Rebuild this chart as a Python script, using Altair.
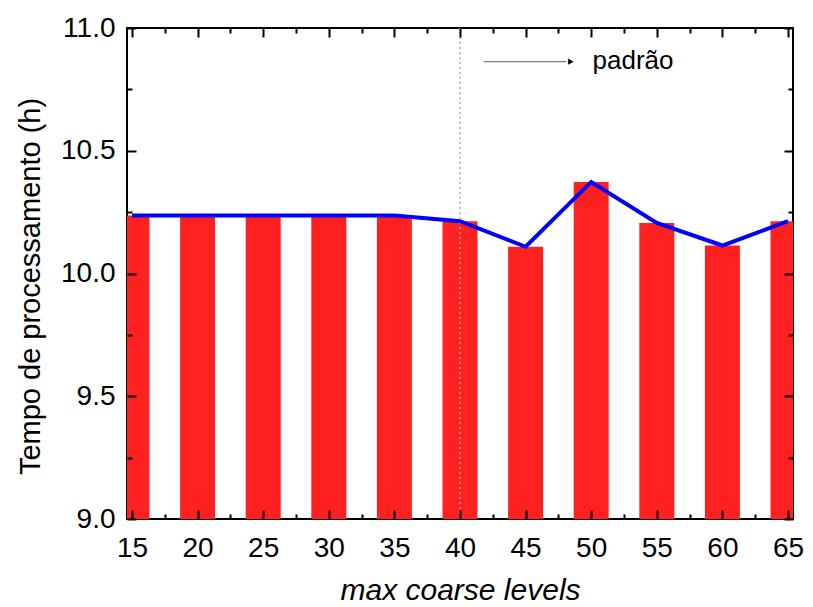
import altair as alt
import pandas as pd

# ---- data ----
levels = [15, 20, 25, 30, 35, 40, 45, 50, 55, 60, 65]
times = [10.236, 10.236, 10.236, 10.236, 10.236, 10.213, 10.109, 10.373, 10.206, 10.114, 10.213]
x_major = [15, 20, 25, 30, 35, 40, 45, 50, 55, 60, 65]
x_minor = [17.5, 22.5, 27.5, 32.5, 37.5, 42.5, 47.5, 52.5, 57.5, 62.5]
y_major = [9.0, 9.5, 10.0, 10.5, 11.0]
y_minor = [9.25, 9.75, 10.25, 10.75]
default_level = [40]
arrow_x = [41.8, 48.1]
arrow_y = [10.863, 10.863]
head_x = [48.45]
label_x = [50.1]
label_y = [10.835]
label_text = ["padrão"]

W, H = 666, 491
FONT = "Liberation Sans"

df = pd.DataFrame({"level": levels, "time": times})
df_rule = pd.DataFrame({"x": default_level, "lo": [y_major[0]], "hi": [y_major[-1]]})
df_arrow = pd.DataFrame({"x": arrow_x, "y": arrow_y})
df_head = pd.DataFrame({"x": head_x, "y": arrow_y[:1]})
df_label = pd.DataFrame({"x": label_x, "y": label_y, "t": label_text})

xs = alt.Scale(domain=[15, 65], nice=False, zero=False)
ys = alt.Scale(domain=[9, 11], nice=False, zero=False)


def tick_axis(orient, values, size, offset):
    return alt.Axis(orient=orient, values=values, labels=False, domain=False, grid=False,
                    ticks=True, tickSize=size, tickWidth=2, tickColor="black",
                    offset=offset, title=None, zindex=2)


x_lab = alt.Axis(orient="bottom", values=x_major, ticks=False, tickSize=0, domain=False, grid=False,
                 labelFontSize=28, labelPadding=15, labelFlush=False, labelOverlap=False,
                 labelColor="black", labelFont=FONT, format="d",
                 title="max coarse levels", titleFont=FONT, titleFontSize=30,
                 titleFontStyle="italic", titleFontWeight="normal", titlePadding=13,
                 titleColor="black")
y_lab = alt.Axis(orient="left", values=y_major, ticks=False, tickSize=0, domain=False, grid=False,
                 labelFontSize=28, labelPadding=12, labelFlush=False, labelOverlap=False,
                 labelColor="black", labelFont=FONT, format=".1f",
                 title="Tempo de processamento (h)", titleFont=FONT, titleFontSize=29,
                 titleFontWeight="normal", titlePadding=15, titleColor="black", titleY=258)

bars = alt.Chart(df).mark_bar(size=35, color="#ff2020", clip=True).encode(
    x=alt.X("level:Q", scale=xs, axis=x_lab),
    y=alt.Y("time:Q", scale=ys, axis=y_lab),
    y2=alt.datum(9),
)

line = alt.Chart(df).mark_line(color="#0000ff", strokeWidth=4, clip=True).encode(
    x=alt.X("level:Q", scale=xs, axis=tick_axis("top", x_major, 9, -H)),
    y=alt.Y("time:Q", scale=ys, axis=tick_axis("right", y_major, 9, -W)),
)

rule = alt.Chart(df_rule).mark_rule(color="#b0b0b0", strokeWidth=1.5, strokeDash=[2, 3]).encode(
    x=alt.X("x:Q", scale=xs, axis=tick_axis("top", x_minor, 5, -H)),
    y=alt.Y("lo:Q", scale=ys, axis=tick_axis("right", y_minor, 5, -W)),
    y2="hi:Q",
)

arrow = alt.Chart(df_arrow).mark_line(color="#808080", strokeWidth=1.2).encode(
    x=alt.X("x:Q", scale=xs, axis=tick_axis("bottom", x_major, 9, -H)),
    y=alt.Y("y:Q", scale=ys, axis=tick_axis("left", y_major, 9, -W)),
)

label = alt.Chart(df_label).mark_text(align="left", baseline="alphabetic", fontSize=26,
                                      font=FONT, color="black").encode(
    x=alt.X("x:Q", scale=xs, axis=tick_axis("bottom", x_minor, 5, -H)),
    y=alt.Y("y:Q", scale=ys, axis=tick_axis("left", y_minor, 5, -W)),
    text="t:N",
)

head = alt.Chart(df_head).mark_point(shape="triangle-right", filled=True, color="black",
                                     size=40, opacity=1).encode(
    x=alt.X("x:Q", scale=xs, axis=None),
    y=alt.Y("y:Q", scale=ys, axis=None),
)

chart = alt.layer(bars, rule, line, arrow, head, label).resolve_axis(
    x="independent", y="independent"
).properties(
    width=W, height=H,
    autosize=alt.AutoSizeParams(type="none"),
    padding={"left": 119, "top": 20, "right": 12, "bottom": 87},
    background="white",
).configure_view(stroke="black", strokeWidth=2)

chart.save("out.html", embed_options={"renderer": "svg", "actions": False})
